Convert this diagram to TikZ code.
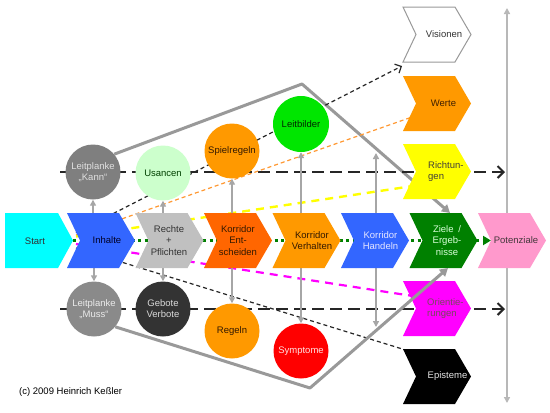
\documentclass[tikz,border=0pt]{standalone}
\usepackage{fontspec}
\setmainfont{Liberation Sans}
\usetikzlibrary{arrows.meta,calc}
\pgfdeclarelayer{bg}\pgfdeclarelayer{fg}
\pgfsetlayers{bg,main,fg}
\definecolor{cstart}{HTML}{00FFFF}
\definecolor{cinh}{HTML}{3366FF}
\definecolor{crp}{HTML}{C0C0C0}
\definecolor{cke}{HTML}{FF6600}
\definecolor{cor}{HTML}{FF9900}
\definecolor{czie}{HTML}{008000}
\definecolor{cpot}{HTML}{FF99CC}
\definecolor{cyel}{HTML}{FFFF00}
\definecolor{cmag}{HTML}{FF00FF}
\definecolor{ckann}{HTML}{7F7F7F}
\definecolor{cmuss}{HTML}{8A8A8A}
\definecolor{cusan}{HTML}{CCFFCC}
\definecolor{cleit}{HTML}{00E600}
\definecolor{cdark}{HTML}{333333}
\definecolor{cred}{HTML}{FF0000}
\definecolor{lgray}{HTML}{A6A6A6}
\definecolor{fgray}{HTML}{999999}
\definecolor{ldark}{HTML}{262626}
\definecolor{corline}{HTML}{FF9933}
\definecolor{dgreen}{HTML}{007A00}
\tikzset{
  txt/.style={font=\fontsize{9.5}{11.5}\selectfont, align=center, inner sep=0pt},
  circ/.style={circle, minimum size=55pt, inner sep=0pt, font=\fontsize{9.5}{11}\selectfont, align=center},
  garrow/.style={draw=lgray, line width=1.4pt, -{Triangle[length=6pt,width=6pt]}},
  axis/.style={draw=lgray!80, line width=1.4pt, {Triangle[length=6pt,width=6pt]}-{Triangle[length=6pt,width=6pt]}},
  funnel/.style={draw=fgray, line width=3pt, line join=round, -{Triangle[length=8pt,width=9pt]}},
  longdash/.style={draw=ldark, line width=2pt, dash pattern=on 12pt off 6pt, -{Straight Barb[length=6pt,width=12pt,line width=2pt]}},
  smalldash/.style={draw=ldark, line width=1.2pt, dash pattern=on 4pt off 3pt},
  orangedash/.style={draw=corline, line width=1.2pt, dash pattern=on 4pt off 3pt},
  yellowdash/.style={draw=cyel, line width=2.4pt, dash pattern=on 8pt off 6pt},
  magdash/.style={draw=cmag, line width=2.2pt, dash pattern=on 8pt off 6pt},
  greendots/.style={draw=czie, line width=3pt, dash pattern=on 3pt off 3.5pt, -{Triangle[length=8pt,width=9pt,fill=dgreen]}},
}
\newcommand{\chev}[6][]{%
  \path[#5] (#3,#4) coordinate (#2-nw) -- ++(52,0) coordinate (#2-ne) -- ++(16,27.5) coordinate (#2-tip) -- ++(-16,27.5) coordinate (#2-se) -- ++(-52,0) coordinate (#2-sw) -- ++(13,-27.5) coordinate (#2-notch) -- cycle;
  \node[txt,#1] (#2) at ($(#2-nw)+(37,27.5)$) {#6};
}
\begin{document}
\begin{tikzpicture}[x=1pt,y=-1pt]
\useasboundingbox (0,0) rectangle (550,413);

% ---------- main row ----------
\path[fill=cstart] (5,213) coordinate (start-nw) -- (58,213) -- (73,240.5) coordinate (start-tip) -- (58,268) -- (5,268) -- cycle;
\node[txt, text=black!80!cyan!40!black] (start) at (35,241) {Start};
\chev[xshift=3pt, text=black!85!blue]{inh}{67}{213}{fill=cinh}{Inhalte}
\chev[xshift=-3.5pt, text=cdark]{rp}{135.5}{213}{fill=crp}{Rechte\\+\\Pflichten}
\chev[xshift=-3pt, text=black!80!orange]{ke}{204}{213}{fill=cke}{Korridor\\Ent-\\scheiden}
\chev[xshift=2.5pt, text=black!80!orange]{ver}{272.5}{213}{fill=cor}{Korridor\\Verhalten}
\chev[xshift=2.5pt, text=blue!10]{hand}{341}{213}{fill=cinh}{Korridor\\Handeln}
\chev[xshift=0.5pt, text=green!15]{zie}{409.5}{213}{fill=czie}{Ziele\enspace/\\Ergeb-\\nisse}
\chev[xshift=1pt, text=black!85!magenta]{pot}{478}{213}{fill=cpot}{Potenziale}

% ---------- right column ----------
\chev[xshift=4pt, text=cdark]{vis}{403}{7}{fill=white, draw=fgray, line width=1pt}{Visionen}
\chev[xshift=3.5pt, text=black!75!orange]{wer}{403}{76}{fill=cor}{Werte}
\chev[anchor=west, xshift=-12pt, align=left, text=black!85!yellow]{ric}{403}{144}{fill=cyel}{Richtun-\\gen}
\chev[anchor=west, xshift=-13pt, align=left, text=black!60!magenta]{ori}{403}{281}{fill=cmag}{Orientie-\\rungen}
\chev[xshift=7.5pt, text=white!90!black]{epi}{403}{349}{fill=black}{Episteme}

% ---------- circles ----------
\node[circ, fill=ckann, text=white!88!black] (kann) at (93,172) {Leitplanke\\„Kann“};
\node[circ, fill=cusan, text=black!75!green] (usan) at (163,173) {Usancen};
\node[circ, fill=cor, text=black!80!orange] (spiel) at (232,151) {Spielregeln};
\node[circ, fill=cleit, minimum size=56pt, text=black!85!green] (leit) at (301,124) {Leitbilder};
\node[circ, fill=cmuss, text=white!92!black] (muss) at (94,309) {Leitplanke\\„Muss“};
\node[circ, fill=cdark, text=white!85!black] (gebo) at (163,309) {Gebote\\Verbote};
\node[circ, fill=cor, text=black!80!orange] (regeln) at (232,331) {Regeln};
\node[circ, fill=cred, text=red!12] (sympt) at (301,351) {Symptome};

\node[anchor=west, font=\fontsize{9.5}{11}\selectfont, inner sep=0pt] (copy) at (19,392) {(c) 2009 Heinrich Keßler};

% ---------- lines behind ----------
\begin{pgfonlayer}{bg}
\fill[white] (0,0) rectangle (550,413);
\coordinate (h1a) at (60,172); \coordinate (h1b) at (505,172);
\coordinate (h2a) at (60,309); \coordinate (h2b) at (505,309);
\coordinate (d1a) at (76,232.6); \coordinate (d1b) at (402,66);
\coordinate (o1a) at (76,235);   \coordinate (o1b) at (412,117);
\coordinate (y1a) at (76,236.5); \coordinate (y1b) at (413,186);
\coordinate (m1a) at (76,244);   \coordinate (m1b) at (416,296.5);
\coordinate (d2a) at (76,248);   \coordinate (d2b) at (404,349.5);
\coordinate (peak1) at (302,84);
\coordinate (zietop) at (450,213);
\coordinate (hup) at (376,153); \coordinate (hdn) at (376,327);
\coordinate (axt) at (507,8); \coordinate (axb) at (507,403);

\draw[funnel] (kann.40) -- (peak1) -- (zietop);
\draw[longdash] (h1a) -- (h1b);
\draw[longdash] (h2a) -- (h2b);
\draw[smalldash, -{Straight Barb[length=5pt,width=10pt,line width=1.2pt]}] (d1a) -- (d1b);
\draw[orangedash] (o1a) -- (o1b);
\draw[yellowdash] (y1a) -- (y1b);
\draw[magdash] (m1a) -- (m1b);
\draw[smalldash] (d2a) -- (d2b);
\draw[greendots] (start-tip) -- (pot-notch);

\draw[garrow] (kann.south |- inh-nw) -- (kann.south);
\draw[garrow] (muss.north |- inh-sw) -- (muss.north);
\draw[garrow] (usan.south |- rp-nw) -- (usan.south);
\draw[garrow] (gebo.north |- rp-sw) -- (gebo.north);
\draw[garrow] (spiel.south |- ke-nw) -- (spiel.south);
\draw[garrow] (regeln.north |- ke-sw) -- (regeln.north);
\draw[garrow] (leit.south |- ver-nw) -- (leit.south);
\draw[garrow] (sympt.north |- ver-sw) -- (sympt.north);
\draw[garrow] (hup |- hand-nw) -- (hup);
\draw[garrow] (hdn |- hand-sw) -- (hdn);
\draw[axis] (axt) -- (axb);
\end{pgfonlayer}

% ---------- lines in front ----------
\begin{pgfonlayer}{fg}
\coordinate (peak2) at (310,388);
\coordinate (ziebot) at (448,268);
\draw[funnel] (muss.-40) -- (peak2) -- (ziebot);
\end{pgfonlayer}
\end{tikzpicture}
\end{document}
